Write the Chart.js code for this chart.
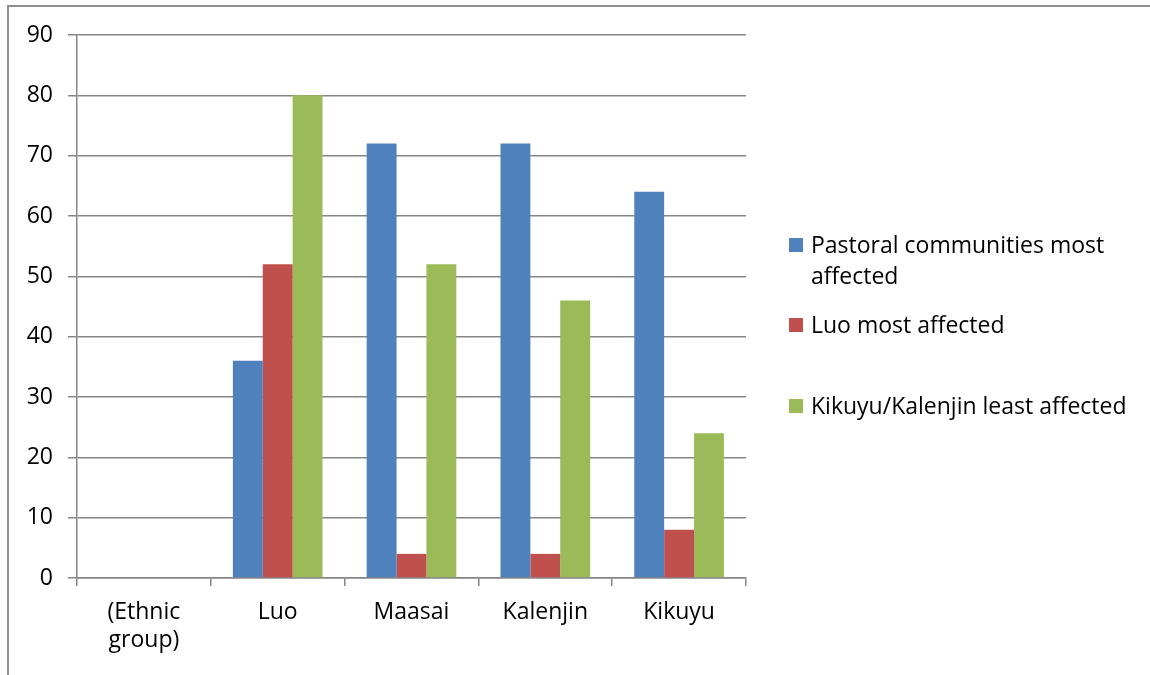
<!DOCTYPE html>
<html>
<head>
<meta charset="utf-8">
<script src="https://cdn.jsdelivr.net/npm/chart.js@4/dist/chart.umd.min.js"></script>
<style>
  html, body { margin: 0; padding: 0; background: #fff; }
  #wrap { position: relative; width: 1150px; height: 675px; overflow: hidden; }
  #frame { position: absolute; left: 7px; top: 5px; width: 1200px; height: 700px;
           border-top: 2px solid #909090; border-left: 2px solid #909090; }
  #chart { position: absolute; left: 0; top: 0; }
  .leg { position: absolute; left: 789px; font-family: "Open Sans", sans-serif;
         font-size: 23px; line-height: 31px; color: #000; }
  .leg span.box { position: absolute; left: 0; top: 9px; width: 14px; height: 14px; }
  .leg span.txt { display: block; margin-left: 22px; width: 360px; white-space: nowrap; }
</style>
</head>
<body>
<div id="wrap">
  <div id="frame"></div>
  <canvas id="chart" width="1150" height="675"></canvas>
  <div id="legend"></div>
</div>
<script>
// Categorias e valores
const categorias = [["(Ethnic", "group)"], "Luo", "Maasai", "Kalenjin", "Kikuyu"];
const pastoral = [null, 36, 72, 72, 64];
const luo = [null, 52, 4, 4, 8];
const kikuyuKalenjin = [null, 80, 52, 46, 24];
const nomesSeries = ["Pastoral communities most affected", "Luo most affected", "Kikuyu/Kalenjin least affected"];
const cores = ["#4F81BD", "#C0504D", "#9BBB59"];

const fonte = { family: "Open Sans", size: 23 };

const ctx = document.getElementById("chart");
const grafico = new Chart(ctx, {
  type: "bar",
  data: {
    labels: categorias,
    datasets: [
      { label: nomesSeries[0], data: pastoral, backgroundColor: cores[0] },
      { label: nomesSeries[1], data: luo, backgroundColor: cores[1] },
      { label: nomesSeries[2], data: kikuyuKalenjin, backgroundColor: cores[2] },
    ],
  },
  options: {
    responsive: false,
    animation: false,
    layout: { padding: { left: 0, top: 35, right: 404, bottom: 0 } },
    datasets: { bar: { categoryPercentage: 0.67, barPercentage: 1 } },
    plugins: { legend: { display: false }, tooltip: { enabled: false } },
    scales: {
      x: {
        grid: { drawOnChartArea: false, color: "#868686", lineWidth: 1.5, tickLength: 8, offset: true },
        border: { color: "#868686", width: 1.5 },
        ticks: { color: "#000", font: { ...fonte, lineHeight: 1.22 }, padding: 12, maxRotation: 0 },
        afterFit: (s) => { s.height = 97; },
      },
      y: {
        min: 0,
        max: 90,
        grid: { color: "#868686", lineWidth: 1.5, tickLength: 9 },
        border: { color: "#868686", width: 1.5 },
        ticks: { stepSize: 10, color: "#000", font: fonte, padding: 15 },
        afterFit: (s) => { s.width = 77; },
      },
    },
  },
});

// Legenda em HTML
const legendaTops = [229, 309, 390];
const legenda = document.getElementById("legend");
nomesSeries.forEach((nome, i) => {
  const d = document.createElement("div");
  d.className = "leg";
  d.style.top = legendaTops[i] + "px";
  let txt = nome;
  if (i === 0) txt = "Pastoral communities most<br>affected";
  d.innerHTML = '<span class="box" style="background:' + cores[i] + '"></span><span class="txt">' + txt + "</span>";
  legenda.appendChild(d);
});
</script>
</body>
</html>
